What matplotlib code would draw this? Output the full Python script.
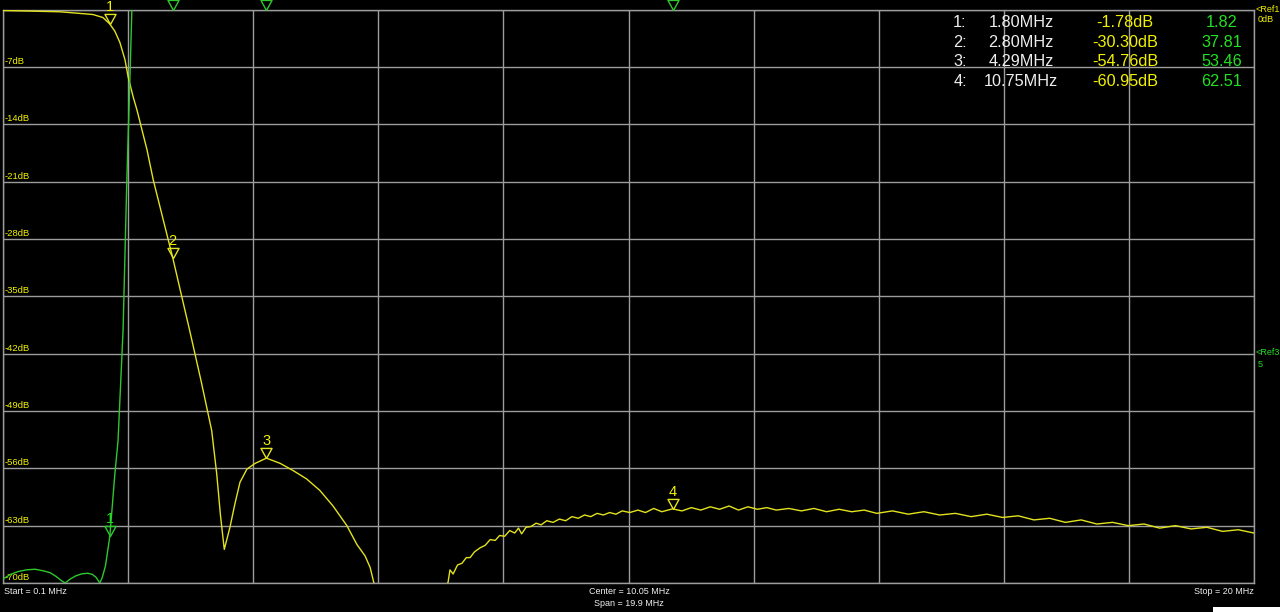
import numpy as np
import matplotlib
matplotlib.use("Agg")
import matplotlib.pyplot as plt
from matplotlib.patches import Rectangle

# ---------------- data ----------------
f_start, f_stop = 0.1, 20.0
db_top, db_bottom = 0, -70
swr_bottom, swr_top = 1, 11

# S21 (dB) trace – yellow
freq_s21 = [0.10, 0.45, 1.01, 1.53, 1.69, 1.80, 1.88, 1.96, 2.04, 2.09, 2.17, 2.23,
            2.39, 2.49, 2.80, 3.07, 3.25, 3.42, 3.50, 3.56, 3.62, 3.71, 3.79, 3.87,
            3.98, 4.11, 4.29, 4.51, 4.72, 4.93, 5.14, 5.35, 5.57, 5.73, 5.86, 5.94,
            6.00, 6.30, 6.90,
            7.18, 7.21, 7.26, 7.33, 7.40, 7.47, 7.53, 7.60, 7.69, 7.77, 7.85, 7.93,
            8.00, 8.08, 8.16, 8.24, 8.30, 8.35, 8.42, 8.50, 8.58, 8.66, 8.75, 8.85,
            8.95, 9.05, 9.15, 9.25, 9.35, 9.45, 9.55, 9.65, 9.75, 9.85, 9.95, 10.07,
            10.20, 10.32, 10.45, 10.58, 10.75, 10.90, 11.05, 11.20, 11.35, 11.50,
            11.65, 11.80, 11.95, 12.10, 12.25, 12.40, 12.60, 12.80, 13.00, 13.20,
            13.40, 13.60, 13.80, 14.00, 14.25, 14.50, 14.75, 15.00, 15.25, 15.50,
            15.75, 16.00, 16.25, 16.50, 16.75, 17.00, 17.25, 17.50, 17.75, 18.00,
            18.25, 18.50, 18.75, 19.00, 19.25, 19.50, 19.75, 20.00]
s21_db = [-0.12, -0.18, -0.28, -0.61, -0.98, -1.78, -2.66, -4.04, -6.12, -8.20, -10.65, -12.24,
          -17.1, -20.8, -30.30, -39.2, -45.3, -51.4, -56.7, -61.8, -65.9, -63.2, -60.3, -57.7,
          -56.1, -55.4, -54.76, -55.4, -56.3, -57.3, -58.7, -60.6, -63.0, -65.3, -66.7, -68.1,
          -70.0, -75.0, -75.0,
          -69.9, -68.4, -68.9, -67.8, -67.6, -66.9, -66.9, -66.2, -65.7, -65.4, -64.7, -64.8,
          -64.2, -64.3, -63.6, -63.9, -63.3, -64.0, -63.2, -63.1, -62.7, -62.9, -62.4, -62.6,
          -62.2, -62.4, -61.9, -62.1, -61.7, -61.9, -61.5, -61.7, -61.4, -61.6, -61.2, -61.4,
          -61.1, -61.4, -60.9, -61.3, -60.95, -61.2, -60.8, -61.1, -60.7, -61.0,
          -60.6, -61.1, -60.7, -61.0, -60.8, -61.1, -60.9, -61.2, -60.9, -61.3,
          -61.0, -61.3, -61.1, -61.5, -61.2, -61.6, -61.3, -61.7, -61.5, -61.9,
          -61.6, -62.0, -61.8, -62.3, -62.1, -62.6, -62.3, -62.8, -62.6, -63.0,
          -62.8, -63.3, -63.0, -63.4, -63.2, -63.7, -63.5, -63.9]

# SWR trace – green
freq_swr = [0.10, 0.22, 0.34, 0.48, 0.61, 0.75, 0.85, 0.95, 1.03, 1.09, 1.17, 1.25,
            1.35, 1.45, 1.52, 1.58, 1.64, 1.68, 1.73, 1.80, 1.88, 1.93, 2.01, 2.07,
            2.12, 2.15, 2.30, 2.80, 4.29, 10.75, 20.0]
swr = [1.07, 1.15, 1.20, 1.23, 1.24, 1.21, 1.18, 1.11, 1.04, 1.00, 1.07, 1.12,
       1.16, 1.17, 1.15, 1.10, 1.00, 1.10, 1.30, 1.82, 2.91, 3.48, 5.41, 8.03,
       9.83, 11.0, 20.0, 37.81, 53.46, 62.51, 70.0]

marker_ids = ["1", "2", "3", "4"]
marker_freq = [1.80, 2.80, 4.29, 10.75]
marker_s21 = [-1.78, -30.30, -54.76, -60.95]
marker_swr = [1.82, 37.81, 53.46, 62.51]

db_labels = [-7, -14, -21, -28, -35, -42, -49, -56, -63, -70]

# ---------------- style ----------------
W, H = 1280, 612
grid_c = "#9c9c9c"
yel = "#e2e21e"
yel_txt = "#f2f200"
grn = "#2ec82e"
grn_txt = "#22e022"
wht = "#eeeeee"
plt.rcParams["font.family"] = ["Liberation Sans", "DejaVu Sans"]

fig = plt.figure(figsize=(W / 100, H / 100), dpi=100, facecolor="black")


def px(x, y):
    return x / W, 1 - y / H


ax = fig.add_axes([3 / W, (H - 583) / H, 1251 / W, 573.5 / H])
ax.set_facecolor("black")
ax.set_xlim(f_start, f_stop)
ax.set_ylim(db_bottom, db_top)
ax.set_xticks(np.linspace(f_start, f_stop, 11))
ax.set_yticks(np.arange(db_bottom, db_top + 1, 7))
ax.tick_params(length=0, labelbottom=False, labelleft=False)
ax.grid(True, color=grid_c, lw=1.0)
for s in ax.spines.values():
    s.set_color(grid_c)
    s.set_linewidth(1.0)

ax2 = ax.twinx()
ax2.set_ylim(swr_bottom, swr_top)
ax2.axis("off")

ax.plot(freq_s21, s21_db, color=yel, lw=1.0, zorder=3)
ax2.plot(freq_swr, swr, color=grn, lw=1.0, zorder=3)

tri = [(0, 0), (-0.55, 1), (0.55, 1), (0, 0)]
ms = 14.5

# yellow markers
ax.plot(marker_freq, marker_s21, linestyle="none", marker=tri, markersize=ms,
        markerfacecolor="none", markeredgecolor=yel, markeredgewidth=1.0, zorder=4,
        clip_on=False)
for mid, f, v in zip(marker_ids, marker_freq, marker_s21):
    ax.annotate(mid, xy=(f, v), xytext=(0, 17), textcoords="offset pixels",
                ha="center", va="center", color=yel_txt, fontsize=10.5)

# green markers (clipped to top when off-scale)
swr_plot = [min(v, swr_top) for v in marker_swr]
ax2.plot(marker_freq, swr_plot, linestyle="none", marker=tri, markersize=ms,
         markerfacecolor="none", markeredgecolor=grn, markeredgewidth=1.0, zorder=4,
         clip_on=False)
for mid, f, v in zip(marker_ids, marker_freq, marker_swr):
    if v <= swr_top:
        ax2.annotate(mid, xy=(f, v), xytext=(0, 17), textcoords="offset pixels",
                     ha="center", va="center", color=grn_txt, fontsize=10.5)

# left dB labels
for d in db_labels:
    ax.annotate(f"{d}dB", xy=(0, d), xycoords=("axes fraction", "data"),
                xytext=(2, 1), textcoords="offset pixels", ha="left", va="bottom",
                color=yel_txt, fontsize=6.8)

# right reference labels
fig.text(*px(1256, 9), "<Ref1", color=yel_txt, fontsize=6.5, ha="left", va="center")
fig.text(*px(1258, 19), "0dB", color=yel_txt, fontsize=6.5, ha="left", va="center")
ref3_y = ax2.transData.transform((0, 5))[1]
fig.text(1256 / W, ref3_y / H + 1 / H, "<Ref3", color=grn_txt, fontsize=6.5, ha="left", va="center")
fig.text(1258 / W, ref3_y / H - 11 / H, "5", color=grn_txt, fontsize=6.5, ha="left", va="center")

# marker table
row_y = [22.5, 42.3, 62, 82]
for i in range(4):
    y = row_y[i]
    fig.text(*px(960, y), f"{marker_ids[i]}:", color=wht, fontsize=11.7, ha="center", va="center")
    fig.text(*px(1021, y), f"{marker_freq[i]:.2f}MHz", color=wht, fontsize=11.7, ha="center", va="center")
    fig.text(*px(1125, y), f"{marker_s21[i]:.2f}dB", color=yel_txt, fontsize=11.7, ha="center", va="center")
    fig.text(*px(1222, y), f"{marker_swr[i]:.2f}", color=grn_txt, fontsize=11.7, ha="center", va="center")

# bottom labels
center = (f_start + f_stop) / 2
span = f_stop - f_start
fig.text(*px(4, 592), f"Start = {f_start:g} MHz", color=wht, fontsize=6.5, ha="left", va="center")
fig.text(*px(629, 592), f"Center = {center:.2f} MHz", color=wht, fontsize=6.5, ha="center", va="center")
fig.text(*px(629, 603), f"Span = {span:.1f} MHz", color=wht, fontsize=6.5, ha="center", va="center")
fig.text(*px(1254, 592), f"Stop = {f_stop:g} MHz", color=wht, fontsize=6.5, ha="right", va="center")

fig.patches.append(Rectangle(px(1213, 612), 67 / W, 5 / H, transform=fig.transFigure,
                             facecolor="white", edgecolor="none"))

fig.savefig("out.png", dpi=100, facecolor="black")
